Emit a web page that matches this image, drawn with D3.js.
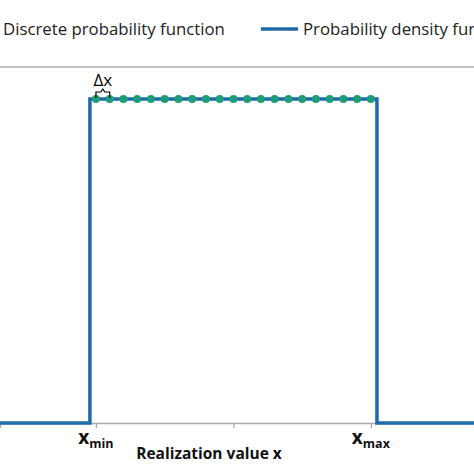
<!DOCTYPE html><html><head><meta charset="utf-8"><script src="https://cdn.jsdelivr.net/npm/d3@7"></script>
<style>body{margin:0;background:#fff}text{font-family:"Open Sans",Lato,sans-serif}</style></head><body><svg id="c" width="474" height="474"></svg>
<script>
const pdfX=[-0.35,-0.022,-0.022,1.022,1.022,1.4];
const pdfY=[0,0,1,1,0,0];
const dotX=d3.range(21).map(i=>i/20);
const dotY=dotX.map(()=>1);
const tickVals=[0,0.5,1];
const svg=d3.select("#c");
const x=d3.scaleLinear().domain([-0.349,1.375]).range([0,474]);
const y=d3.scaleLinear().domain([0,1]).range([423,99]);
svg.append("line").attr("x1",0).attr("x2",474).attr("y1",67).attr("y2",67).attr("stroke","#888").attr("stroke-width",1.2);
svg.append("g").attr("transform","translate(0,423)").call(d3.axisBottom(x).tickValues(tickVals).tickSize(5).tickFormat(""))
 .call(g=>{g.selectAll("line,path").attr("stroke","#aaa").attr("stroke-width",1.3);});
svg.append("path").datum(pdfX.map((v,i)=>[v,pdfY[i]])).attr("d",d3.line().x(d=>x(d[0])).y(d=>y(d[1])))
 .attr("fill","none").attr("stroke","#1f6aa8").attr("stroke-width",3.5);
svg.selectAll("circle.d").data(dotX).join("circle").attr("cx",d=>x(d)).attr("cy",(d,i)=>y(dotY[i])).attr("r",4).attr("fill","#1e9e78");
// delta x
svg.append("text").attr("x",x(0.025)).attr("y",86).attr("text-anchor","middle").attr("font-size",17).text("Δx");
const b0=x(0),b1=x(0.05);
svg.append("path").attr("d",`M${b0},98 L${b0},92 L${(b0+b1)/2-2},92 L${(b0+b1)/2},89 L${(b0+b1)/2+2},92 L${b1},92 L${b1},98`).attr("fill","none").attr("stroke","#000").attr("stroke-width",1.2);
// legend
svg.append("text").attr("x",3).attr("y",35).attr("font-size",16.8).attr("fill","#222").text("Discrete probability function");
svg.append("line").attr("x1",261).attr("x2",298).attr("y1",29).attr("y2",29).attr("stroke","#1f6aa8").attr("stroke-width",3.5);
svg.append("text").attr("x",303).attr("y",35).attr("font-size",16.8).attr("fill","#222").text("Probability density function");
// labels
const lab=(v,sub)=>{const t=svg.append("text").attr("x",x(v)).attr("y",444).attr("text-anchor","middle").attr("font-weight","bold").attr("font-size",19).attr("fill","#111");
 t.append("tspan").text("x");t.append("tspan").attr("font-size",12.5).attr("dy",4).text(sub);};
lab(0,"min");lab(1,"max");
svg.append("text").attr("x",209).attr("y",459).attr("text-anchor","middle").attr("font-weight","bold").attr("font-size",15.5).attr("fill","#111").text("Realization value x");
</script></body></html>
